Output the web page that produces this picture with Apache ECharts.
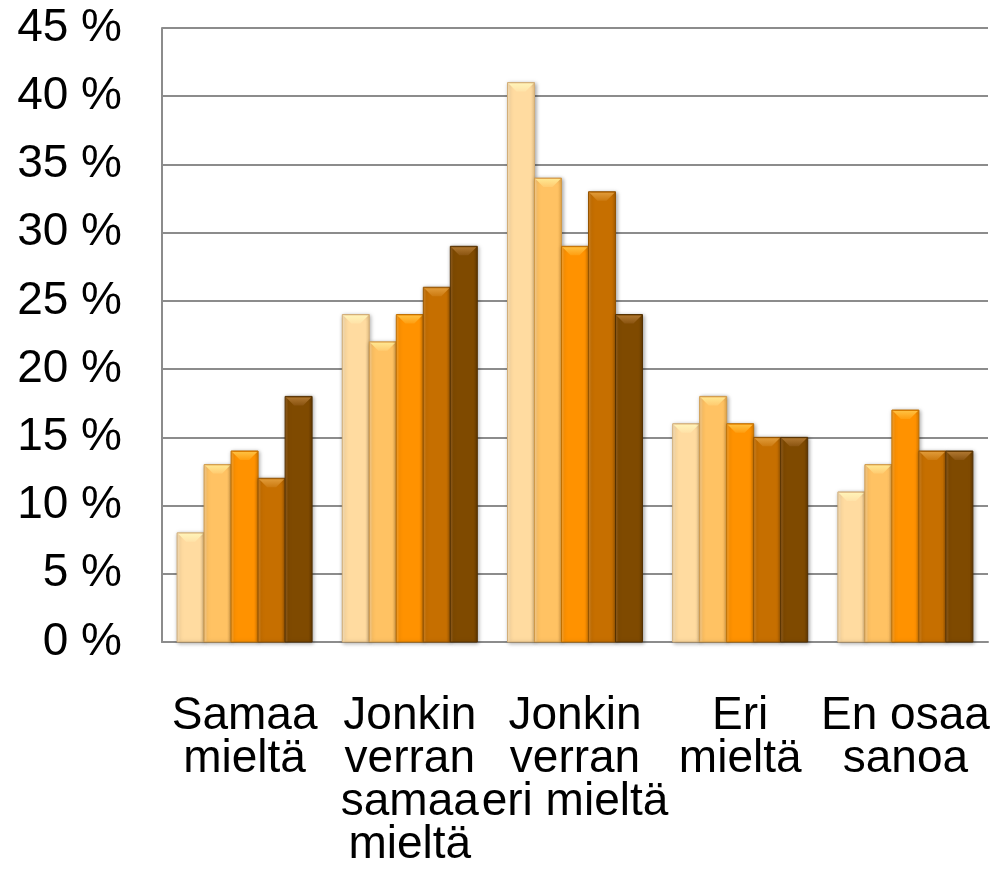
<!DOCTYPE html>
<html>
<head>
<meta charset="utf-8">
<title>Mielipiteet</title>
<script src="https://cdn.jsdelivr.net/npm/echarts@6/dist/echarts.min.js"></script>
<style>
  html, body { margin: 0; padding: 0; background: #fff; }
  #chart { width: 994px; height: 896px; }
</style>
</head>
<body>
<div id="chart"></div>
<script>
const categories = [
  'Samaa\nmieltä',
  'Jonkin\nverran\nsamaa\nmieltä',
  'Jonkin\nverran\neri mieltä',
  'Eri\nmieltä',
  'En osaa\nsanoa'
];

// five series per answer group (values in %)
const serie1 = [8, 24, 41, 16, 11];
const serie2 = [13, 22, 34, 18, 13];
const serie3 = [14, 24, 29, 16, 17];
const serie4 = [12, 26, 33, 15, 14];
const serie5 = [18, 29, 24, 15, 14];

const yTicks = [0, 5, 10, 15, 20, 25, 30, 35, 40, 45];

const seriesValues = [serie1, serie2, serie3, serie4, serie5];

// [left edge, middle, right edge, border, top bevel light, top bevel dark]
const palette = [
  ['#FFEBC8', '#FFDBA0', '#E9C285', '#D2AE78', '#FFF3B8', '#FFE2A8'],
  ['#FFD79C', '#FFC263', '#E6A74A', '#D09A48', '#FFE690', '#FFCB70'],
  ['#FFAD3D', '#FF9200', '#DE7E00', '#C07000', '#FFC040', '#FF9E10'],
  ['#DA8C2C', '#C66F00', '#A65D00', '#955400', '#E09A38', '#CC7A10'],
  ['#9C6626', '#7F4A00', '#623900', '#553100', '#AE7630', '#8A5410']
];

const BAR_W = 27;
const BEVEL = 9;

function renderBar(seriesIdx) {
  const c = palette[seriesIdx];
  return function (params, api) {
    const cat = api.value(0);
    const base = api.coord([cat, 0]);
    const top = api.coord([cat, api.value(1)]);
    const x0 = base[0] + (seriesIdx - 2.5) * BAR_W;
    const x1 = x0 + BAR_W;
    const y0 = top[1];
    const y1 = base[1];
    const b = Math.min(BEVEL, (y1 - y0) / 2);
    return {
      type: 'group',
      children: [
        {
          type: 'rect',
          shape: { x: x0, y: y0, width: BAR_W, height: y1 - y0 },
          style: {
            fill: {
              type: 'linear', x: 0, y: 0, x2: 1, y2: 0,
              colorStops: [
                { offset: 0, color: c[0] },
                { offset: 0.14, color: c[1] },
                { offset: 0.86, color: c[1] },
                { offset: 1, color: c[2] }
              ]
            },
            stroke: c[3],
            lineWidth: 1,
            shadowColor: 'rgba(0,0,0,0.35)',
            shadowBlur: 4,
            shadowOffsetX: 1,
            shadowOffsetY: 1
          }
        },
        {
          type: 'polygon',
          shape: {
            points: [[x0 + 1, y0 + 1], [x1 - 1, y0 + 1], [x1 - b, y0 + b], [x0 + b, y0 + b]]
          },
          style: {
            fill: {
              type: 'linear', x: 0, y: 0, x2: 0, y2: 1,
              colorStops: [
                { offset: 0, color: c[4] },
                { offset: 1, color: c[5] }
              ]
            }
          }
        }
      ]
    };
  };
}

const chart = echarts.init(document.getElementById('chart'));

chart.setOption({
  animation: false,
  grid: { left: 162, right: 6, top: 28, bottom: 254, containLabel: false },
  xAxis: {
    type: 'category',
    data: categories,
    axisLine: { lineStyle: { color: '#8c8c8c', width: 2 } },
    axisTick: { show: false },
    axisLabel: {
      interval: 0,
      margin: 53,
      color: '#000',
      fontFamily: 'Liberation Sans, Arial, sans-serif',
      fontSize: 46,
      lineHeight: 43,
      align: 'center'
    }
  },
  yAxis: {
    type: 'value',
    min: 0,
    max: yTicks[yTicks.length - 1],
    interval: 5,
    axisLine: { show: true, lineStyle: { color: '#8c8c8c', width: 2 } },
    axisTick: { show: false },
    splitLine: { lineStyle: { color: '#8c8c8c', width: 2 } },
    axisLabel: {
      margin: 40,
      color: '#000',
      fontFamily: 'Liberation Sans, Arial, sans-serif',
      fontSize: 46,
      formatter: v => v + ' %'
    }
  },
  series: seriesValues.map((vals, i) => ({
    type: 'custom',
    renderItem: renderBar(i),
    encode: { x: 0, y: 1 },
    data: vals.map((v, k) => [k, v])
  }))
});
</script>
</body>
</html>
